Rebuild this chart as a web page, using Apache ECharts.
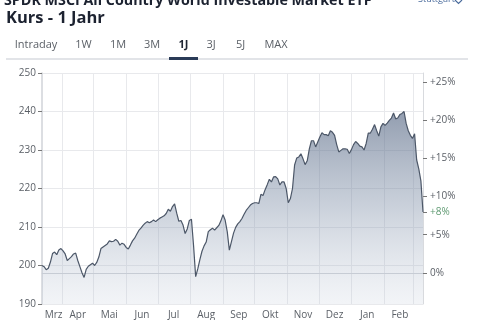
<!DOCTYPE html>
<html>
<head>
<meta charset="utf-8">
<script src="https://cdn.jsdelivr.net/npm/echarts@6/dist/echarts.min.js"></script>
<style>html,body{margin:0;padding:0;background:#fff;}#c{width:480px;height:320px;}</style>
</head>
<body>
<div id="c"></div>
<script>
// ---- data ----
const titleLine1 = 'SPDR MSCI All Country World Investable Market ETF';
const titleLine2 = 'Kurs - 1 Jahr';
const exchange = 'Stuttgart';
const tabs = ['Intraday', '1W', '1M', '3M', '1J', '3J', '5J', 'MAX'];
const activeTab = '1J';
const startDate = '2024-03-13';
const stepDays = 2;
const basePrice = 198.1;
const monthNames = ['Jan','Feb','Mrz','Apr','Mai','Jun','Jul','Aug','Sep','Okt','Nov','Dez'];
const monthStarts = ['2024-04-01','2024-05-01','2024-06-01','2024-07-01','2024-08-01','2024-09-01','2024-10-01','2024-11-01','2024-12-01','2025-01-01','2025-02-01','2025-03-01'];
const monthLabelDates = ['2024-03-24','2024-04-16','2024-05-16','2024-06-16','2024-07-16','2024-08-16','2024-09-16','2024-10-16','2024-11-16','2024-12-16','2025-01-16','2025-02-16'];
const priceTicks = { min: 190, max: 250, interval: 10 };
const pctTicks = [0, 5, 10, 15, 20, 25];
const closes = [
200.0,199.7,198.9,199.3,200.9,203.1,203.5,202.8,204.0,204.4,
203.8,203.0,201.3,201.8,202.3,203.0,203.2,201.3,199.7,198.1,
196.9,199.0,199.8,200.2,200.6,200.0,200.8,202.2,204.4,204.8,
205.2,205.6,206.4,206.2,206.3,206.8,206.3,205.3,205.8,205.5,
204.7,204.3,205.3,206.4,207.1,208.1,209.1,209.7,210.4,211.0,
211.4,211.1,211.4,211.8,211.4,211.9,212.3,212.6,212.9,213.5,
214.6,214.1,215.3,216.0,213.6,211.5,211.7,210.5,208.3,209.5,
211.7,212.0,205.2,197.1,199.1,201.5,203.7,205.1,206.1,208.8,
209.3,209.7,209.2,209.8,210.4,211.6,213.2,211.8,208.8,204.0,
206.2,208.4,209.9,210.8,211.4,212.2,213.3,214.3,215.0,215.7,
216.1,216.3,216.3,216.1,218.5,218.2,219.7,221.0,222.4,221.7,
223.0,223.1,222.5,220.9,221.7,221.7,220.0,216.3,217.4,220.0,
226.1,227.9,228.2,229.0,227.7,226.2,227.2,230.3,232.4,232.4,
230.8,232.1,233.4,234.5,234.0,234.0,233.7,235.0,234.6,233.8,
231.4,229.5,229.9,230.3,230.3,230.2,229.1,230.1,231.4,232.2,
231.7,231.0,230.8,230.0,231.7,234.4,234.4,235.4,236.6,235.0,
233.6,236.0,236.9,236.4,237.0,237.7,238.3,239.6,238.1,238.3,
239.2,239.5,240.0,236.9,235.0,233.8,233.0,234.2,227.4,225.1,
222.0,213.9
];

// ---- build ----
const DAY = 86400000;
const ts = s => { const p = s.split('-').map(Number); return Date.UTC(p[0], p[1]-1, p[2]); };
const t0 = ts(startDate);
const seriesData = closes.map((v, i) => [t0 + i * stepDays * DAY, v]);
const tEnd = seriesData[seriesData.length - 1][0];
const pct = p => (p / basePrice - 1) * 100;
const lastPct = pct(closes[closes.length - 1]);
const FONT = "'Open Sans', 'Noto Sans', sans-serif";

const tabX = [36, 83.5, 118, 152, 183.5, 211, 240.5, 276];
const graphics = [
  { type: 'text', left: 4, top: -6, style: { text: titleLine1, font: "bold 14.3px " + FONT, fill: '#1c2230' } },
  { type: 'text', left: 6, top: 10, style: { text: titleLine2, font: "bold 16.5px " + FONT, fill: '#1c2230' } },
  { type: 'text', left: 418, top: -5, style: { text: exchange, font: "9px " + FONT, fill: '#4a6b9c' } },
  { type: 'polyline', shape: { points: [[455, 0], [458.5, 3.5], [462, 0]] }, style: { stroke: '#4a6b9c', lineWidth: 1.2, fill: null } },
  { type: 'rect', shape: { x: 6, y: 58, width: 462, height: 2 }, style: { fill: '#e2e4e8' } },
  { type: 'rect', shape: { x: 169, y: 57, width: 29, height: 3 }, style: { fill: '#2a3b57' } }
];
tabs.forEach((t, i) => {
  const active = t === activeTab;
  graphics.push({ type: 'text', x: tabX[i], y: 44.5, style: { text: t, font: (active ? 'bold ' : '') + '11px ' + FONT, fill: active ? '#1f2633' : '#5a5f66', align: 'center', verticalAlign: 'middle' } });
});

const chart = echarts.init(document.getElementById('c'), null, { renderer: 'canvas' });
chart.setOption({
  animation: false,
  backgroundColor: '#fff',
  grid: { left: 42, right: 57, top: 73, bottom: 15, containLabel: false },
  graphic: graphics,
  xAxis: {
    type: 'value', min: t0, max: tEnd,
    axisLine: { show: true, lineStyle: { color: '#d0d3d8', width: 1 } },
    axisTick: { show: false, customValues: monthStarts.map(ts) },
    splitLine: { show: true, lineStyle: { color: '#e8e9ec', width: 1 } },
    axisLabel: {
      customValues: monthLabelDates.map(ts),
      formatter: v => monthNames[new Date(v).getUTCMonth()],
      color: '#5a5f66', fontSize: 10, fontFamily: FONT, margin: 6, hideOverlap: false
    }
  },
  yAxis: [
    {
      type: 'value', position: 'left', min: priceTicks.min, max: priceTicks.max, interval: priceTicks.interval,
      axisLine: { show: true, lineStyle: { color: '#d0d3d8', width: 1.5 } },
      axisTick: { show: true, inside: false, length: 4, lineStyle: { color: '#777' } },
      splitLine: { show: true, lineStyle: { color: '#e8e9ec', width: 1 } },
      axisLabel: { color: '#5a5f66', fontSize: 10, fontFamily: FONT, margin: 6 }
    },
    {
      type: 'value', position: 'right', min: pct(priceTicks.min), max: pct(priceTicks.max),
      axisLine: { show: true, lineStyle: { color: '#d8dade', width: 1 } },
      axisTick: { show: true, length: 4, lineStyle: { color: '#777' }, customValues: pctTicks.concat([lastPct]) },
      splitLine: { show: false },
      axisLabel: {
        customValues: pctTicks.concat([lastPct]),
        formatter: v => {
          if (Math.abs(v - lastPct) < 1e-6) return '{g|+' + Math.round(v) + '%}';
          const r = Math.round(v);
          return (r > 0 ? '+' : '') + r + '%';
        },
        rich: { g: { color: '#5f9a72', fontSize: 10, fontFamily: FONT } },
        color: '#5a5f66', fontSize: 10, fontFamily: FONT, margin: 7
      }
    }
  ],
  series: [{
    type: 'line',
    data: seriesData,
    showSymbol: false,
    symbol: 'none',
    lineStyle: { color: '#4c5768', width: 1.2 },
    areaStyle: {
      color: new echarts.graphic.LinearGradient(0, 0, 0, 1, [
        { offset: 0, color: 'rgba(78,96,126,0.88)' },
        { offset: 0.5, color: 'rgba(130,146,170,0.6)' },
        { offset: 1, color: 'rgba(195,204,218,0.3)' }
      ])
    }
  }]
});
</script>
</body>
</html>
